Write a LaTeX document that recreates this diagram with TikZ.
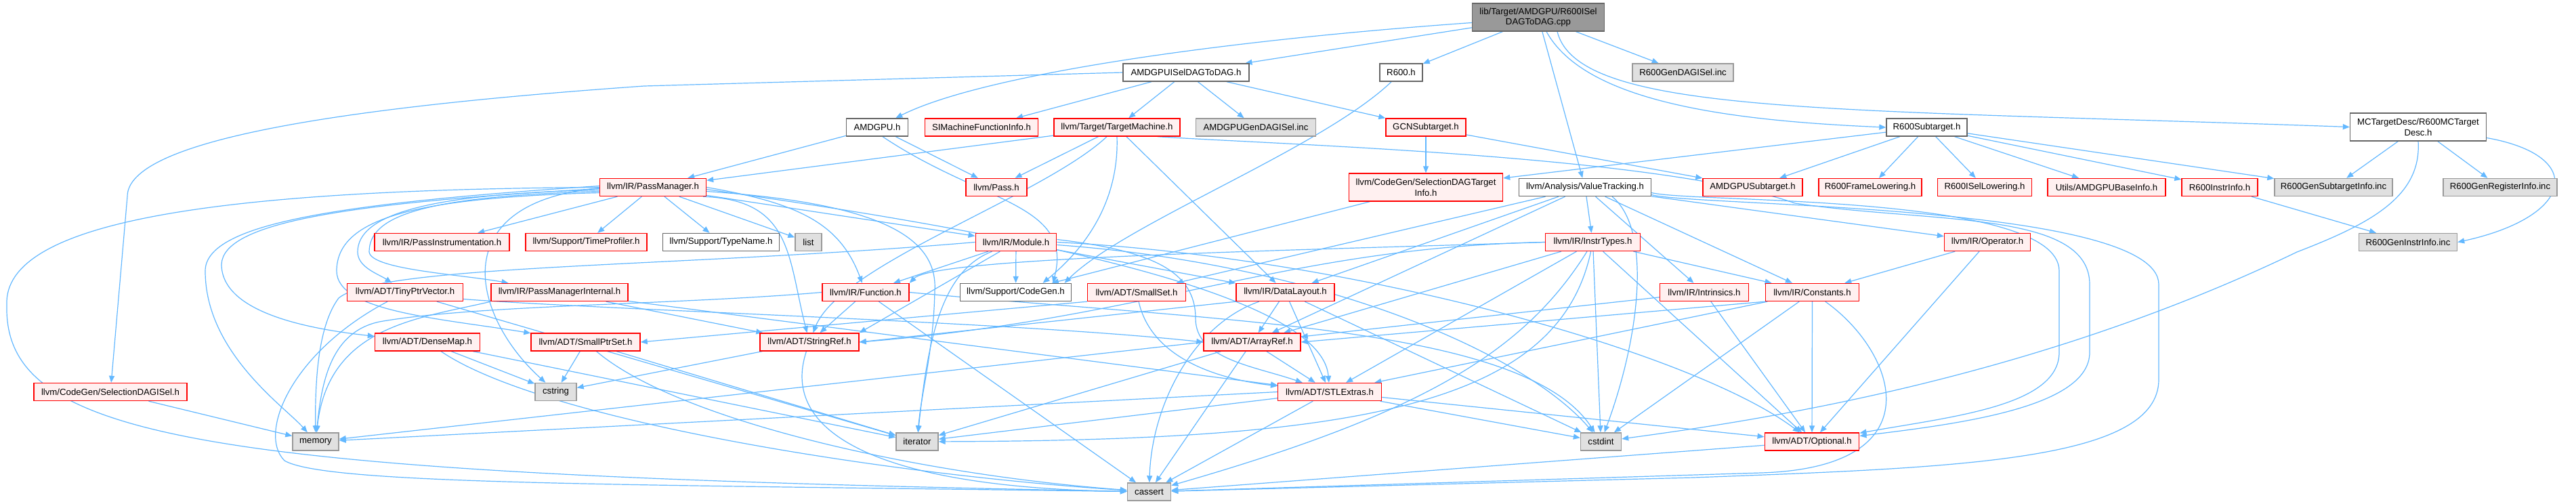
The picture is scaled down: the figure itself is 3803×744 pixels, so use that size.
\documentclass[tikz,border=0pt]{standalone}
\usepackage{fontspec}
\setmainfont{Liberation Sans}
\usetikzlibrary{arrows.meta}
\definecolor{edgec}{HTML}{63B8FF}
\definecolor{redfill}{HTML}{FFF0F0}
\definecolor{grayfill}{HTML}{E0E0E0}
\definecolor{grayline}{HTML}{999999}
\definecolor{darkline}{HTML}{666666}
\definecolor{rootfill}{HTML}{999999}
\pgfdeclarelayer{bg}
\pgfsetlayers{bg,main}
\begin{document}
\begin{tikzpicture}[x=1pt,y=-1pt,
  box/.style={draw, rectangle, inner sep=0pt, minimum height=26pt, line width=1.4pt, font=\fontsize{13.2}{15.8}\selectfont, text=black},
  rn/.style={box, draw=red, fill=redfill},
  wn/.style={box, draw=darkline, fill=white},
  gn/.style={box, draw=grayline, fill=grayfill},
  two/.style={minimum height=41pt, align=center},
  dep/.style={draw=edgec, line width=1.2pt, -{Triangle[length=10pt,width=8pt]}}
]
\useasboundingbox (0,0) rectangle (3803,744);
% row 1
\node[wn, two, fill=rootfill, minimum width=195pt] (root) at (2271,25.5) {lib/Target/AMDGPU/R600ISel\\DAGToDAG.cpp};
% row 2
\node[wn, minimum width=186pt] (aisel) at (1751,107) {AMDGPUISelDAGToDAG.h};
\node[wn, minimum width=63pt] (r600) at (2068.5,107) {R600.h};
\node[gn, minimum width=149pt] (r600gdi) at (2484.5,107) {R600GenDAGISel.inc};
% row 3
\node[wn, minimum width=91pt] (amdgpu) at (1295,188) {AMDGPU.h};
\node[rn, minimum width=167pt] (simfi) at (1449,188) {SIMachineFunctionInfo.h};
\node[rn, minimum width=186pt] (tm) at (1649,188) {llvm/Target/TargetMachine.h};
\node[gn, minimum width=177pt] (agdi) at (1854,188) {AMDGPUGenDAGISel.inc};
\node[rn, minimum width=118pt] (gcn) at (2105,188) {GCNSubtarget.h};
\node[wn, minimum width=119pt] (r600st) at (2844.5,188) {R600Subtarget.h};
\node[wn, two, minimum width=201pt] (mctd) at (3570,187.5) {MCTargetDesc/R600MCTarget\\Desc.h};
% row 4
\node[rn, minimum width=157pt] (pm) at (964,276.5) {llvm/IR/PassManager.h};
\node[rn, minimum width=90pt] (pass) at (1471,276.5) {llvm/Pass.h};
\node[rn, two, minimum width=227pt] (sdti) at (2105,276.5) {llvm/CodeGen/SelectionDAGTarget\\Info.h};
\node[wn, minimum width=195pt] (vt) at (2340,276.5) {llvm/Analysis/ValueTracking.h};
\node[rn, minimum width=147pt] (amdst) at (2587.5,276.5) {AMDGPUSubtarget.h};
\node[rn, minimum width=152pt] (r600fl) at (2761,276.5) {R600FrameLowering.h};
\node[rn, minimum width=139pt] (r600isl) at (2930,276.5) {R600ISelLowering.h};
\node[rn, minimum width=174pt] (abi) at (3110,276.5) {Utils/AMDGPUBaseInfo.h};
\node[rn, minimum width=112pt] (r600ii) at (3277,276.5) {R600InstrInfo.h};
\node[gn, minimum width=174pt] (r600gsi) at (3445,276.5) {R600GenSubtargetInfo.inc};
\node[gn, minimum width=168pt] (r600gri) at (3691,276.5) {R600GenRegisterInfo.inc};
% row 5
\node[rn, minimum width=199pt] (pinstr) at (652.5,357.5) {llvm/IR/PassInstrumentation.h};
\node[rn, minimum width=179pt] (tprof) at (865.5,357.5) {llvm/Support/TimeProfiler.h};
\node[wn, minimum width=172pt] (tname) at (1064.6,357.5) {llvm/Support/TypeName.h};
\node[gn, minimum width=39pt] (list) at (1193.5,357.5) {list};
\node[rn, minimum width=119.5pt] (module) at (1500,357.5) {llvm/IR/Module.h};
\node[rn, minimum width=140pt] (itypes) at (2351.5,357.5) {llvm/IR/InstrTypes.h};
\node[rn, minimum width=127pt] (oper) at (2934,357.5) {llvm/IR/Operator.h};
\node[gn, minimum width=145pt] (r600gii) at (3555,357.5) {R600GenInstrInfo.inc};
% row 6
\node[rn, minimum width=170.5pt] (tpv) at (598,431.5) {llvm/ADT/TinyPtrVector.h};
\node[rn, minimum width=202pt] (pmi) at (826,431.5) {llvm/IR/PassManagerInternal.h};
\node[rn, minimum width=128pt] (func) at (1278,431.5) {llvm/IR/Function.h};
\node[wn, minimum width=164pt] (codegen) at (1499.5,431.5) {llvm/Support/CodeGen.h};
\node[rn, minimum width=145pt] (smallset) at (1678,431.5) {llvm/ADT/SmallSet.h};
\node[rn, minimum width=145pt] (dl) at (1897.5,431.5) {llvm/IR/DataLayout.h};
\node[rn, minimum width=131pt] (intr) at (2516,431.5) {llvm/IR/Intrinsics.h};
\node[rn, minimum width=138pt] (consts) at (2675.5,431.5) {llvm/IR/Constants.h};
% row 7
\node[rn, minimum width=155pt] (densemap) at (631,505) {llvm/ADT/DenseMap.h};
\node[rn, minimum width=161pt] (sps) at (864.5,505) {llvm/ADT/SmallPtrSet.h};
\node[rn, minimum width=146pt] (sref) at (1195,505) {llvm/ADT/StringRef.h};
\node[rn, minimum width=143pt] (aref) at (1848.5,505) {llvm/ADT/ArrayRef.h};
% row 8
\node[rn, minimum width=226pt] (sdisel) at (163,578.5) {llvm/CodeGen/SelectionDAGISel.h};
\node[gn, minimum width=61pt] (cstring) at (820.5,578.5) {cstring};
\node[rn, minimum width=152.5pt] (stlx) at (1963,578.5) {llvm/ADT/STLExtras.h};
% row 9
\node[gn, minimum width=68pt] (memory) at (466,652) {memory};
\node[gn, minimum width=62pt] (iterator) at (1354,652) {iterator};
\node[gn, minimum width=60pt] (cstdint) at (2363.5,652) {cstdint};
\node[rn, minimum width=139.5pt] (optional) at (2675,652) {llvm/ADT/Optional.h};
% row 10
\node[gn, minimum width=64pt] (cassert) at (1696.5,726) {cassert};

\begin{pgfonlayer}{bg}
\fill[white] (0,0) rectangle (3803,744);
% root
\draw[dep] (root) -- (aisel);
\draw[dep] ([yshift=-8pt]root.west) .. controls (1800,60) and (1450,110) .. (amdgpu);
\draw[dep] (root) -- (r600);
\draw[dep] (root) -- (r600gdi);
\draw[dep] (root) -- (vt);
\draw[dep] ([xshift=12pt]root.south) .. controls (2340,150) and (2550,178) .. (r600st.west);
\draw[dep] ([xshift=28pt]root.south) .. controls (2330,170) and (2700,160) .. (mctd.west);
% AMDGPUISelDAGToDAG.h
\draw[dep] (aisel.west) -- (951,127) .. controls (480,160) and (188,210) .. (188,290) -- (sdisel);
\draw[dep] (aisel) -- (simfi);
\draw[dep] (aisel) -- (tm);
\draw[dep] (aisel) -- (agdi);
\draw[dep] (aisel) -- (gcn);
% AMDGPU.h
\draw[dep] (amdgpu) -- (pm);
\draw[dep] (amdgpu) -- (pass);
\draw[dep] ([xshift=8pt]amdgpu.south) .. controls (1450,300) and (1585,300) .. ([xshift=55pt]codegen.north);
% TargetMachine.h
\draw[dep] (tm) -- (pm);
\draw[dep] (tm) -- (pass);
\draw[dep] ([xshift=-15pt]tm.south) .. controls (1540,290) and (1240,390) .. (sref);
\draw[dep] (tm.south) .. controls (1652,290) and (1610,360) .. ([xshift=40pt]codegen.north);
\draw[dep] (tm) -- (dl);
\draw[dep] ([xshift=60pt]tm.south) .. controls (1900,214) and (2450,230) .. (2650,300) .. controls (2850,330) and (3085,310) .. (3085,420) -- (3085,520) .. controls (3085,600) and (2900,625) .. (optional);
% GCNSubtarget.h, R600.h, SelectionDAGTargetInfo
\draw[dep] (gcn) -- (sdti);
\draw[dep] (gcn) -- (amdst);
\draw[dep] (r600) .. controls (1950,220) and (1660,330) .. ([xshift=72pt]codegen.north);
\draw[dep] (sdti) -- (codegen);
% R600Subtarget.h
\draw[dep] (r600st) -- (sdti);
\draw[dep] (r600st) -- (amdst);
\draw[dep] (r600st) -- (r600fl);
\draw[dep] (r600st) -- (r600isl);
\draw[dep] (r600st) -- (abi);
\draw[dep] (r600st) -- (r600ii);
\draw[dep] (r600st) -- (r600gsi);
% MCTargetDesc
\draw[dep] (mctd) -- (r600gsi);
\draw[dep] (mctd) -- (r600gri);
\draw[dep] ([yshift=-16pt]mctd.east) .. controls (3820,230) and (3800,320) .. (r600gii.east);
\draw[dep] (mctd.south) .. controls (3575,290) and (3500,330) .. (3391,372) .. controls (3000,560) and (2600,620) .. (cstdint);
\draw[dep] (r600ii) -- (r600gii);
% SelectionDAGISel
\draw[dep] (sdisel) -- (memory);
% ValueTracking.h
\draw[dep] (vt) -- (aref);
\draw[dep] (vt) -- (smallset);
\draw[dep] (vt) -- (consts);
\draw[dep] (vt) -- (dl);
\draw[dep] (vt) -- (itypes);
\draw[dep] (vt) -- (intr);
\draw[dep] (vt) -- (oper);
\draw[dep] ([xshift=40pt]vt.south) .. controls (2440,340) and (2420,500) .. (cstdint);
\draw[dep] ([yshift=-8pt]vt.east) .. controls (2500,300) and (3040,285) .. (3040,400) -- (3040,520) .. controls (3040,600) and (2880,615) .. (optional);
\draw[dep] ([yshift=-11pt]vt.east) .. controls (2500,305) and (3187,300) .. (3187,420) -- (3187,560) .. controls (3187,680) and (2900,690) .. (2500,705) -- (cassert);
% InstrTypes.h
\draw[dep] (itypes) -- (aref);
\draw[dep] (itypes) -- (optional);
\draw[dep] (itypes) -- (stlx);
\draw[dep] (itypes.west) .. controls (1900,365) and (1700,470) .. (sref.east);
\draw[dep] (itypes.west) .. controls (1900,370) and (1380,380) .. (func.north east);
\draw[dep] (itypes) .. controls (2250,520) and (2100,610) .. (cassert);
\draw[dep] (itypes) -- (cstdint);
\draw[dep] (itypes) .. controls (2300,600) and (2000,650) .. (iterator);
\draw[dep] (itypes) -- (consts);
% Function.h
\draw[dep] (func) -- (sref);
\draw[dep] (func) -- (cassert);
\draw[dep] (func.east) .. controls (1800,475) and (2250,480) .. (cstdint);
\draw[dep] (func.west) .. controls (1000,450) and (700,450) .. (560,475) .. controls (490,490) and (475,560) .. (memory);
% Module.h
\draw[dep] (module) -- (func);
\draw[dep] (module) -- (sref.north east);
\draw[dep] (module) -- (dl);
\draw[dep] (module) -- (codegen);
\draw[dep] ([yshift=4pt]module.east) .. controls (1700,370) and (1765,400) .. (1765,470) .. controls (1765,530) and (1850,540) .. (stlx);
\draw[dep] (module.east) .. controls (2000,380) and (2500,520) .. (optional);
\draw[dep] ([yshift=-4pt]module.east) .. controls (1950,390) and (2250,520) .. (cstdint);
\draw[dep] (module) .. controls (1390,400) and (1370,500) .. (iterator);
\draw[dep] (module.west) .. controls (1000,395) and (560,390) .. (500,440) .. controls (470,480) and (465,560) .. (memory);
% PassManager.h
\draw[dep] (pm) -- (pinstr);
\draw[dep] (pm) -- (tprof);
\draw[dep] (pm) -- (tname);
\draw[dep] (pm) -- (list);
\draw[dep] (pm) -- (module);
\draw[dep] (pm.east) .. controls (1180,300) and (1240,330) .. (func);
\draw[dep] ([yshift=-6pt]pm.west) .. controls (620,290) and (545,320) .. (545,372) .. controls (548,398) and (680,405) .. (pmi);
\draw[dep] ([yshift=-4pt]pm.west) .. controls (620,286) and (528,320) .. (528,372) .. controls (528,395) and (560,405) .. (tpv);
\draw[dep] ([yshift=-2pt]pm.west) .. controls (500,300) and (330,330) .. (327,390) .. controls (327,460) and (450,485) .. (densemap);
\draw[dep] ([yshift=-8pt]pm.west) .. controls (620,292) and (497,320) .. (497,400) .. controls (497,460) and (650,470) .. (sps);
\draw[dep] ([xshift=-5pt]pm.south east) .. controls (1170,295) and (1163,380) .. (sref);
\draw[dep] ([yshift=-3pt]pm.east) .. controls (1400,330) and (1950,420) .. (stlx);
\draw[dep] (pm.west) .. controls (300,280) and (5,330) .. (10,450) .. controls (5,650) and (300,700) .. (cassert);
\draw[dep] ([yshift=-1pt]pm.west) .. controls (650,300) and (700,470) .. (cstring);
\draw[dep] ([yshift=-6pt]pm.east) .. controls (1300,300) and (1385,350) .. (1380,430) .. controls (1378,520) and (1360,580) .. (iterator);
\draw[dep] ([yshift=2pt]pm.west) .. controls (500,300) and (303,330) .. (303,400) .. controls (303,520) and (420,600) .. (memory);
% PassManagerInternal.h
\draw[dep] (pmi) -- (stlx);
\draw[dep] (pmi) -- (sref);
\draw[dep] (pmi.south west) .. controls (620,470) and (485,480) .. (memory);
% TinyPtrVector.h
\draw[dep] ([yshift=-10pt]tpv.east) .. controls (900,458) and (1500,475) .. (aref.west);
\draw[dep] (tpv) .. controls (430,520) and (380,640) .. (420,680) .. controls (480,715) and (900,715) .. (cassert);
\draw[dep] (tpv) -- (iterator);
% DenseMap.h
\draw[dep] (densemap) -- (cstring);
\draw[dep] (densemap) -- (iterator);
\draw[dep] (densemap) .. controls (800,620) and (1300,700) .. (cassert);
% SmallPtrSet.h
\draw[dep] (sps) -- (cstring);
\draw[dep] (sps) -- (iterator);
\draw[dep] (sps) .. controls (1000,620) and (1350,700) .. (cassert);
% StringRef.h
\draw[dep] (sref) -- (cstring);
\draw[dep] (sref) .. controls (1150,640) and (1300,720) .. (cassert);
% SmallSet.h
\draw[dep] (smallset.south west) -- (sps.east);
\draw[dep] (smallset) .. controls (1700,530) and (1800,560) .. (stlx);
% DataLayout.h
\draw[dep] (dl) -- (aref);
\draw[dep] (dl) -- (stlx);
\draw[dep] (dl.south west) -- (sref.east);
\draw[dep] (dl) .. controls (1760,480) and (1700,600) .. (cassert);
\draw[dep] (dl) -- (cstdint);
% ArrayRef.h
\draw[dep] (aref) -- (stlx);
\draw[dep] (aref) -- (cassert);
\draw[dep] (aref) -- (iterator);
\draw[dep] (aref.west) -- (memory);
% STLExtras.h
\draw[dep] (stlx) -- (optional);
\draw[dep] (stlx) -- (cassert);
\draw[dep] (stlx) -- (cstdint);
\draw[dep] (stlx) -- (iterator);
\draw[dep] (stlx.west) -- (memory);
% Optional.h
\draw[dep] (optional) -- (cassert);
% Constants.h
\draw[dep] (consts.south west) -- (aref.east);
\draw[dep] (consts) -- (optional);
\draw[dep] (consts) -- (stlx);
\draw[dep] (consts) .. controls (2800,520) and (2860,690) .. (2600,698) -- (cassert);
\draw[dep] (consts) -- (cstdint);
% Intrinsics.h
\draw[dep] (intr) -- (aref);
\draw[dep] (intr) -- (optional);
% Operator.h
\draw[dep] (oper) -- (consts);
\draw[dep] (oper) -- (optional);
\end{pgfonlayer}
\end{tikzpicture}
\end{document}
